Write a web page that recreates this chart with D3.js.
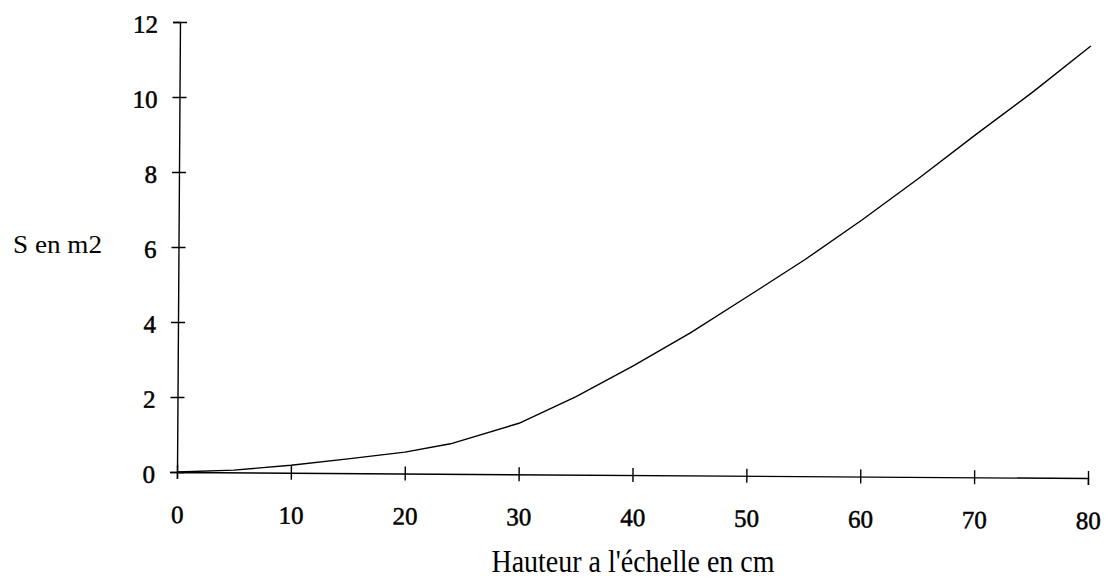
<!DOCTYPE html>
<html>
<head>
<meta charset="utf-8">
<script src="https://cdn.jsdelivr.net/npm/d3@7"></script>
<style>
  html, body { margin: 0; padding: 0; background: #fff; }
  svg { display: block; }
</style>
</head>
<body>
<svg id="chart" width="1110" height="579"></svg>
<script>
// Data
const hauteur = [0, 5, 10, 15, 20, 24, 30, 35, 40, 45, 50, 55, 60, 65, 70, 75, 80];
const surface = [0, 0.06, 0.2, 0.38, 0.57, 0.8, 1.36, 2.08, 2.91, 3.8, 4.78, 5.77, 6.84, 7.97, 9.15, 10.3, 11.52];
const xTicks = [0, 10, 20, 30, 40, 50, 60, 70, 80];
const yTicks = [0, 2, 4, 6, 8, 10, 12];
const xTitle = "Hauteur a l'échelle en cm";
const yTitle = "S en m2";

const svg = d3.select("#chart");
const W = 911, H = 450;
const g = svg.append("g").attr("transform", "translate(177,472) rotate(0.38)");

const x = d3.scaleLinear().domain([0, 80]).range([0, W]);
const y = d3.scaleLinear().domain([0, 12]).range([0, -H]);

const tickFont = "'Liberation Serif', 'Times New Roman', serif";

// X axis
const xAxis = g.append("g").call(
  d3.axisBottom(x).tickValues(xTicks).tickSizeOuter(0).tickSize(7).tickFormat(d3.format("d"))
);
xAxis.select(".domain").attr("stroke", "#000").attr("stroke-width", 1.4);
xAxis.selectAll(".tick line").attr("y1", -7).attr("y2", 7).attr("stroke", "#000").attr("stroke-width", 1.4);
xAxis.selectAll(".tick text").attr("y", 51).attr("dy", 0)
  .attr("font-family", tickFont).attr("font-size", 25).attr("fill", "#000")
  .attr("stroke", "#000").attr("stroke-width", 0.5);

// Y axis
const yAxis = g.append("g").call(
  d3.axisLeft(y).tickValues(yTicks).tickSizeOuter(0).tickSize(7).tickPadding(15).tickFormat(d3.format("d"))
);
yAxis.select(".domain").attr("stroke", "#000").attr("stroke-width", 1.4);
yAxis.selectAll(".tick line").attr("x1", -7).attr("x2", 7).attr("stroke", "#000").attr("stroke-width", 1.4);
yAxis.selectAll(".tick text").attr("dy", "0.42em")
  .attr("font-family", tickFont).attr("font-size", 25).attr("fill", "#000")
  .attr("stroke", "#000").attr("stroke-width", 0.5);

// Curve
const line = d3.line().x((d, i) => x(hauteur[i])).y(d => y(d)).curve(d3.curveLinear);
g.append("path").datum(surface)
  .attr("d", line)
  .attr("fill", "none").attr("stroke", "#000").attr("stroke-width", 1.4);

// Titles
svg.append("text")
  .attr("x", 633).attr("y", 572)
  .attr("text-anchor", "middle")
  .attr("font-family", tickFont).attr("font-size", 32)
  .attr("textLength", 283).attr("lengthAdjust", "spacingAndGlyphs")
  .attr("fill", "#000")
  .text(xTitle);

svg.append("text")
  .attr("x", 13).attr("y", 253)
  .attr("font-family", tickFont).attr("font-size", 26)
  .attr("textLength", 89).attr("lengthAdjust", "spacingAndGlyphs")
  .attr("fill", "#000")
  .text(yTitle);
</script>
</body>
</html>
